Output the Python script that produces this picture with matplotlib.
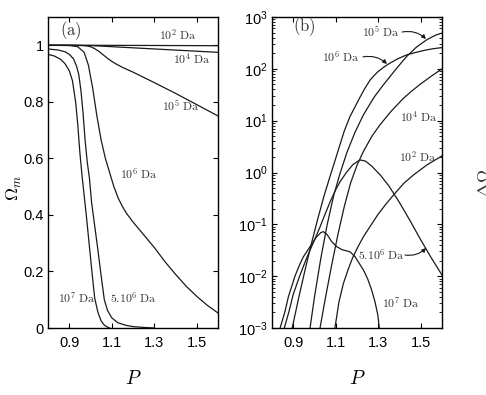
import matplotlib
matplotlib.use('Agg')
import matplotlib.pyplot as plt

plt.rcParams['font.family'] = ['Liberation Sans', 'DejaVu Sans']
plt.rcParams['mathtext.fontset'] = 'cm'

# ---------------- panel (a): Omega_m vs P ----------------
a_p_1e2 = [0.8, 1.0, 1.2, 1.4, 1.6]
a_om_1e2 = [1.0, 1.0, 0.9995, 0.999, 0.9985]

a_p_1e4 = [0.8, 0.9, 1.0, 1.1, 1.2, 1.3, 1.4, 1.5, 1.6]
a_om_1e4 = [1.0, 1.0, 0.999, 0.995, 0.991, 0.987, 0.983, 0.979, 0.975]

a_p_1e5 = [0.8, 0.9, 0.96, 0.98, 1.0, 1.02, 1.04, 1.06, 1.08, 1.1, 1.12, 1.15, 1.2,
           1.3, 1.4, 1.5, 1.6]
a_om_1e5 = [1.0, 1.0, 0.999, 0.998, 0.995, 0.988, 0.978, 0.966, 0.954, 0.943, 0.934,
            0.922, 0.905, 0.868, 0.83, 0.79, 0.75]

a_p_1e6 = [0.8, 0.9, 0.94, 0.97, 0.99, 1.01, 1.03, 1.05, 1.07, 1.09, 1.11, 1.13, 1.15,
           1.17, 1.2, 1.25, 1.3, 1.35, 1.4, 1.45, 1.5, 1.55, 1.6]
a_om_1e6 = [1.0, 0.999, 0.995, 0.975, 0.93, 0.85, 0.75, 0.665, 0.6, 0.55, 0.5, 0.46, 0.43,
            0.405, 0.375, 0.33, 0.285, 0.235, 0.19, 0.148, 0.112, 0.08, 0.053]

a_p_5e6 = [0.8, 0.85, 0.88, 0.9, 0.92, 0.935, 0.945, 0.955, 0.965, 0.975, 0.985, 0.995,
           1.005, 1.02, 1.035, 1.05, 1.065, 1.08, 1.1, 1.13, 1.17, 1.2, 1.25, 1.3]
a_om_5e6 = [0.987, 0.983, 0.977, 0.968, 0.952, 0.925, 0.895, 0.84, 0.76, 0.66, 0.585, 0.53,
            0.445, 0.36, 0.275, 0.185, 0.1, 0.062, 0.036, 0.018, 0.009, 0.005, 0.002, 0.0]

a_p_1e7 = [0.8, 0.83, 0.86, 0.88, 0.9, 0.915, 0.93, 0.94, 0.95, 0.96, 0.97, 0.98, 0.99,
           1.0, 1.01, 1.02, 1.035, 1.05, 1.065, 1.08, 1.09]
a_om_1e7 = [0.968, 0.962, 0.95, 0.935, 0.91, 0.875, 0.8, 0.72, 0.62, 0.54, 0.47, 0.40, 0.325,
            0.25, 0.175, 0.105, 0.055, 0.025, 0.01, 0.003, 0.0]

# ---------------- panel (b): log scale ----------------
b_p_1e6 = [0.895, 0.925, 0.955, 0.985, 1.015, 1.045, 1.075, 1.108, 1.14, 1.167, 1.21,
           1.235, 1.261, 1.28, 1.30, 1.325, 1.347, 1.39, 1.434, 1.48, 1.52, 1.56, 1.6]
b_om_1e6 = [0.001, 0.00372, 0.0129, 0.0417, 0.126, 0.355, 0.891, 2.4, 6.3, 12.0, 26.3,
            40.7, 60.3, 74.1, 89.1, 107, 123, 155, 186, 209, 229, 245, 257]

b_p_1e5 = [0.979, 1.0, 1.03, 1.06, 1.09, 1.12, 1.152, 1.19, 1.23, 1.28, 1.324, 1.38,
           1.434, 1.48, 1.528, 1.57, 1.6]
b_om_1e5 = [0.001, 0.00398, 0.0224, 0.1, 0.355, 0.955, 2.4, 5.9, 12.9, 28.2, 49, 95,
            174, 263, 363, 447, 490]

b_p_1e4 = [1.026, 1.05, 1.08, 1.11, 1.14, 1.17, 1.2, 1.23, 1.27, 1.308, 1.36, 1.418,
           1.46, 1.5, 1.55, 1.6]
b_om_1e4 = [0.001, 0.00355, 0.0158, 0.063, 0.219, 0.63, 1.38, 2.54, 5.0, 8.3, 15.1, 26.9,
            38.0, 51.3, 72.4, 100]

b_p_1e2 = [1.096, 1.115, 1.136, 1.16, 1.18, 1.205, 1.23, 1.265, 1.3, 1.34, 1.379, 1.42,
           1.465, 1.53, 1.6]
b_om_1e2 = [0.001, 0.00316, 0.00724, 0.0141, 0.0229, 0.0372, 0.0575, 0.0955, 0.158,
            0.257, 0.398, 0.617, 0.891, 1.41, 2.09]

b_p_5e6 = [0.858, 0.88, 0.9, 0.93, 0.963, 1.0, 1.026, 1.05, 1.073, 1.1, 1.12, 1.15, 1.18,
           1.214, 1.24, 1.27, 1.31, 1.35, 1.40, 1.45, 1.5, 1.55, 1.6]
b_om_5e6 = [0.001, 0.00209, 0.00447, 0.01, 0.0224, 0.0501, 0.0891, 0.158, 0.269, 0.468,
            0.661, 1.0, 1.41, 1.75, 1.66, 1.32, 0.891, 0.55, 0.263, 0.117, 0.0501, 0.0224, 0.0105]

b_p_1e7 = [0.838, 0.86, 0.877, 0.908, 0.93, 0.947, 0.979, 1.01, 1.03, 1.041, 1.06, 1.08,
           1.104, 1.13, 1.15, 1.167, 1.19, 1.21, 1.23, 1.25, 1.269, 1.285, 1.298, 1.305]
b_om_1e7 = [0.001, 0.002, 0.00398, 0.01, 0.0166, 0.0234, 0.0372, 0.0575, 0.0692, 0.0724,
            0.0631, 0.0468, 0.0372, 0.0324, 0.0309, 0.0295, 0.024, 0.0178, 0.0132, 0.0089,
            0.0054, 0.00316, 0.00178, 0.001]

x_ticks = [0.9, 1.1, 1.3, 1.5]
x_ticklabels = ['0.9', '1.1', '1.3', '1.5']
a_yticks = [0, 0.2, 0.4, 0.6, 0.8, 1.0]
a_yticklabels = ['0', '0.2', '0.4', '0.6', '0.8', '1']

fig = plt.figure(figsize=(4.86, 3.95), dpi=100)
axa = fig.add_axes([48/486, 67/395, 170/486, 311/395])
axb = fig.add_axes([272/486, 67/395, 170/486, 311/395])

lw = 0.9
for p, om in [(a_p_1e2, a_om_1e2), (a_p_1e4, a_om_1e4), (a_p_1e5, a_om_1e5),
              (a_p_1e6, a_om_1e6), (a_p_5e6, a_om_5e6), (a_p_1e7, a_om_1e7)]:
    axa.plot(p, om, color='#1a1a1a', lw=lw)

for p, om in [(b_p_1e6, b_om_1e6), (b_p_1e5, b_om_1e5), (b_p_1e4, b_om_1e4),
              (b_p_1e2, b_om_1e2), (b_p_5e6, b_om_5e6), (b_p_1e7, b_om_1e7)]:
    axb.plot(p, om, color='#1a1a1a', lw=lw)

for ax in (axa, axb):
    ax.set_xlim(0.8, 1.6)
    ax.set_xticks(x_ticks)
    ax.set_xticklabels(x_ticklabels)
    ax.tick_params(which='both', direction='in', top=True, right=True, labelsize=10.5)
    ax.tick_params(which='major', length=3.5, width=0.8)
    ax.tick_params(which='minor', length=2, width=0.6)
    ax.tick_params(axis='x', pad=6)
    ax.tick_params(axis='y', pad=3)
    for s in ax.spines.values():
        s.set_linewidth(1.0)
    ax.set_xlabel('$P$', fontsize=14)
    ax.xaxis.set_label_coords(0.5, -0.135)

axa.set_ylim(0, 1.1)
axa.set_yticks(a_yticks)
axa.set_yticklabels(a_yticklabels)
axa.set_ylabel(r'$\Omega_m$', fontsize=13)
axa.yaxis.set_label_coords(-0.14, 0.45)

axb.set_yscale('log')
axb.set_ylim(1e-3, 1e3)

tkw = dict(fontsize=8.5, color='#333333', math_fontfamily='cm')
# labels panel (a)
axa.text(0.856, 1.053, r'$\mathrm{(a)}$', fontsize=12, va='center', ha='left',
         color='#333333', math_fontfamily='cm')
axa.text(1.322, 1.037, r'$10^2\ \mathrm{Da}$', va='center', ha='left', **tkw)
axa.text(1.388, 0.95, r'$10^4\ \mathrm{Da}$', va='center', ha='left', **tkw)
axa.text(1.336, 0.783, r'$10^5\ \mathrm{Da}$', va='center', ha='left', **tkw)
axa.text(1.139, 0.544, r'$10^6\ \mathrm{Da}$', va='center', ha='left', **tkw)
axa.text(0.847, 0.107, r'$10^7\ \mathrm{Da}$', va='center', ha='left', **tkw)
axa.text(1.092, 0.107, r'$5.10^6\ \mathrm{Da}$', va='center', ha='left', **tkw)

# labels panel (b)
axb.text(0.9, 10**2.81, r'$\mathrm{(b)}$', fontsize=12, va='center', ha='left',
         color='#333333', math_fontfamily='cm')
axb.text(1.402, 10**2.69, r'$10^5\ \mathrm{Da}$', va='center', ha='right', **tkw)
axb.text(1.214, 10**2.23, r'$10^6\ \mathrm{Da}$', va='center', ha='right', **tkw)
axb.text(1.581, 10**1.07, r'$10^4\ \mathrm{Da}$', va='center', ha='right', **tkw)
axb.text(1.576, 10**0.30, r'$10^2\ \mathrm{Da}$', va='center', ha='right', **tkw)
axb.text(1.205, 10**-1.59, r'$5.10^6\ \mathrm{Da}$', va='center', ha='left', **tkw)
axb.text(1.318, 10**-2.52, r'$10^7\ \mathrm{Da}$', va='center', ha='left', **tkw)

akw = dict(arrowstyle='-|>', color='#1a1a1a', lw=0.8, mutation_scale=6,
           shrinkA=0, shrinkB=0, connectionstyle='arc3,rad=-0.25')
axb.annotate('', xy=(1.525, 377), xytext=(1.412, 513), arrowprops=akw)
axb.annotate('', xy=(1.341, 124), xytext=(1.228, 170), arrowprops=akw)
akw2 = dict(akw, connectionstyle='arc3,rad=0.25')
axb.annotate('', xy=(1.525, 10**-1.456), xytext=(1.426, 10**-1.592), arrowprops=akw2)

# partial label of a third panel cut at the right edge
fig.text(477/486, 1 - 183/395, r'$\Delta\Omega$', rotation=90, ha='left', va='center',
         fontsize=13, color='#333333')

fig.savefig('out.png', dpi=100)
